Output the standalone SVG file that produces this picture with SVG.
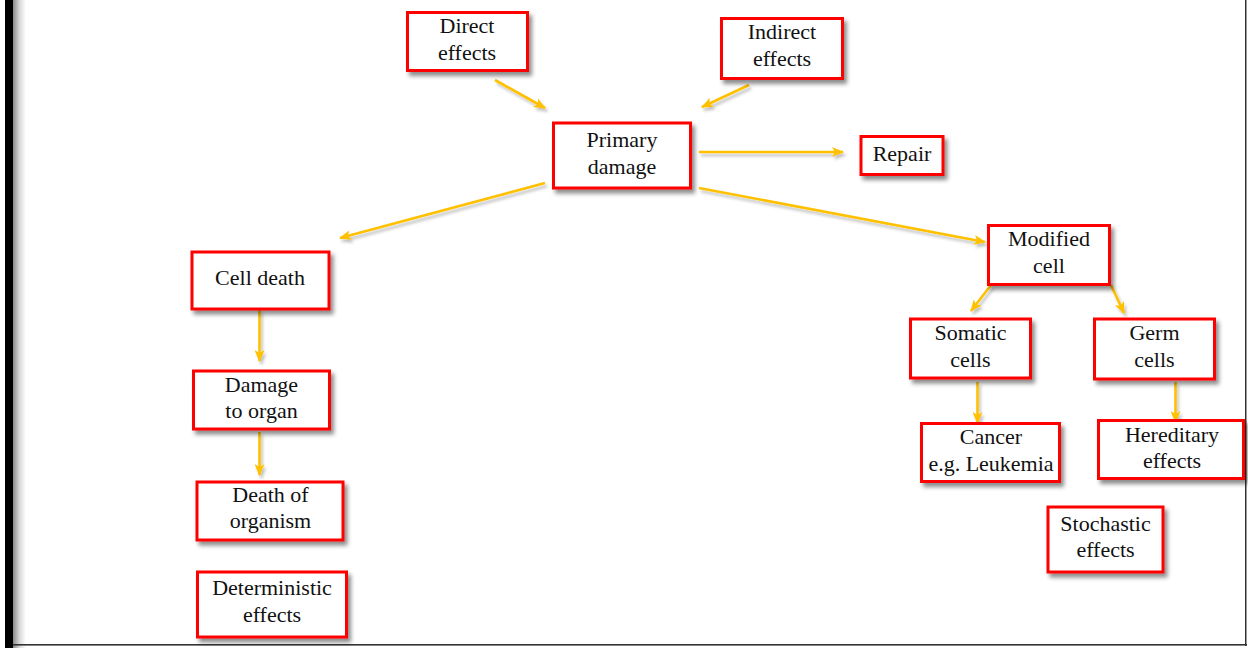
<svg xmlns="http://www.w3.org/2000/svg" width="1248" height="648" viewBox="0 0 1248 648">
  <defs>
    <filter id="sh" x="-20%" y="-20%" width="150%" height="160%">
      <feDropShadow dx="3" dy="4" stdDeviation="2.2" flood-color="#000" flood-opacity="0.45"/>
    </filter>
    <filter id="lsh" x="-20%" y="-20%" width="150%" height="160%">
      <feDropShadow dx="2" dy="3" stdDeviation="1.5" flood-color="#000" flood-opacity="0.25"/>
    </filter>
    <linearGradient id="bargrad" x1="0" y1="0" x2="1" y2="0">
      <stop offset="0" stop-color="#8a8a8a"/>
      <stop offset="0.5" stop-color="#d8d8d8"/>
      <stop offset="1" stop-color="#ffffff"/>
    </linearGradient>
    <marker id="ah" viewBox="0 0 12 10" refX="11" refY="5" markerWidth="12" markerHeight="10" markerUnits="userSpaceOnUse" orient="auto">
      <path d="M0,0 L12,5 L0,10 L3,5 z" fill="#FFC000"/>
    </marker>
    <style>
      .box { fill: #fff; stroke: #FF0000; stroke-width: 3; filter: url(#sh); }
      .t { font-family: "Liberation Serif", "DejaVu Serif", serif; font-size: 22px; fill: #111; text-anchor: middle; }
      .c { stroke: #FFC000; stroke-width: 2.6; fill: none; marker-end: url(#ah); }
    </style>
  </defs>
  <rect x="0" y="0" width="1248" height="648" fill="#fff"/>
  <g id="frame">
    <rect x="13" y="0" width="13" height="648" fill="url(#bargrad)"/>
    <rect x="5" y="0" width="8" height="648" fill="#000"/>
    <rect x="13" y="644" width="1234" height="1.6" fill="#333"/>
    <rect x="1245" y="0" width="1.5" height="646" fill="#333"/>
  </g>

  <g id="connectors" filter="url(#lsh)">
    <line class="c" x1="495" y1="80" x2="545" y2="108"/>
    <line class="c" x1="749" y1="85" x2="702" y2="107"/>
    <line class="c" x1="699" y1="152" x2="843" y2="152"/>
    <line class="c" x1="699" y1="188" x2="985" y2="242"/>
    <line class="c" x1="545" y1="183" x2="340" y2="238"/>
    <line class="c" x1="991" y1="285" x2="971" y2="311"/>
    <line class="c" x1="1111" y1="285" x2="1124" y2="313"/>
    <line class="c" x1="977.5" y1="382" x2="977.5" y2="423"/>
    <line class="c" x1="1175.5" y1="382" x2="1175.5" y2="422"/>
    <line class="c" x1="259.5" y1="310" x2="259.5" y2="361"/>
    <line class="c" x1="259.5" y1="432" x2="259.5" y2="475"/>
  </g>

  <g id="direct">
    <rect class="box" x="407.5" y="12.5" width="120" height="58"/>
    <text class="t" x="467" y="33">Direct</text>
    <text class="t" x="467" y="60">effects</text>
  </g>
  <g id="indirect">
    <rect class="box" x="721.5" y="18.5" width="121" height="60"/>
    <text class="t" x="782" y="39">Indirect</text>
    <text class="t" x="782" y="66">effects</text>
  </g>
  <g id="primary">
    <rect class="box" x="553.5" y="123" width="137" height="65"/>
    <text class="t" x="622" y="147">Primary</text>
    <text class="t" x="622" y="174">damage</text>
  </g>
  <g id="repair">
    <rect class="box" x="861" y="136.5" width="82" height="38"/>
    <text class="t" x="902" y="161">Repair</text>
  </g>
  <g id="modified">
    <rect class="box" x="988.5" y="225.5" width="121" height="59"/>
    <text class="t" x="1049" y="246">Modified</text>
    <text class="t" x="1049" y="273">cell</text>
  </g>
  <g id="celldeath">
    <rect class="box" x="192" y="252" width="137" height="57"/>
    <text class="t" x="260" y="285">Cell death</text>
  </g>
  <g id="damage">
    <rect class="box" x="193.5" y="371" width="136" height="58"/>
    <text class="t" x="261.5" y="392">Damage</text>
    <text class="t" x="261.5" y="418">to organ</text>
  </g>
  <g id="deathof">
    <rect class="box" x="197" y="482" width="146" height="58"/>
    <text class="t" x="270.5" y="502">Death of</text>
    <text class="t" x="270.5" y="528">organism</text>
  </g>
  <g id="deterministic">
    <rect class="box" x="197.5" y="572" width="149" height="65"/>
    <text class="t" x="272" y="595">Deterministic</text>
    <text class="t" x="272" y="622">effects</text>
  </g>
  <g id="somatic">
    <rect class="box" x="910.5" y="319" width="120" height="59"/>
    <text class="t" x="970.5" y="340">Somatic</text>
    <text class="t" x="970.5" y="367">cells</text>
  </g>
  <g id="germ">
    <rect class="box" x="1094.5" y="319" width="120" height="60"/>
    <text class="t" x="1154.5" y="340">Germ</text>
    <text class="t" x="1154.5" y="367">cells</text>
  </g>
  <g id="cancer">
    <rect class="box" x="921.5" y="423.5" width="138" height="58"/>
    <text class="t" x="991" y="444">Cancer</text>
    <text class="t" x="991" y="471">e.g. Leukemia</text>
  </g>
  <g id="hereditary">
    <rect class="box" x="1098.5" y="420.5" width="145" height="58"/>
    <text class="t" x="1172" y="442">Hereditary</text>
    <text class="t" x="1172" y="468">effects</text>
  </g>
  <g id="stochastic">
    <rect class="box" x="1048" y="507" width="115" height="65"/>
    <text class="t" x="1105.5" y="531">Stochastic</text>
    <text class="t" x="1105.5" y="557">effects</text>
  </g>
</svg>
